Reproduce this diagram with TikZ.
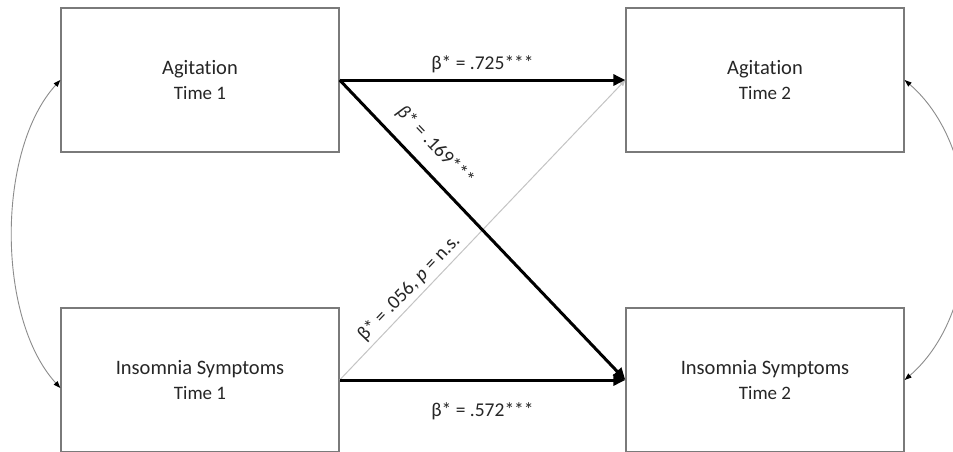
\documentclass[tikz,border=0pt]{standalone}
\usepackage{fontspec}
\setmainfont{Carlito}[Ligatures=NoCommon]
\usetikzlibrary{arrows.meta}
\definecolor{boxline}{HTML}{7A7A7A}
\definecolor{txt}{HTML}{262626}
\definecolor{faint}{HTML}{C4C4C4}
\definecolor{curve}{HTML}{8C8C8C}
\tikzset{
  var/.style={draw=boxline, line width=1.3pt, minimum width=278pt, minimum height=144pt,
    inner sep=0pt, align=center, text=txt, font=\fontsize{20.5}{24.5}\selectfont},
  strong/.style={line width=3pt, -{Triangle[length=12pt,width=11pt]}},
  weak/.style={draw=faint, line width=1pt, -{Triangle[length=6pt,width=5pt]}},
  cov/.style={draw=curve, line width=0.9pt, {Triangle[length=7pt,width=5pt,fill=black,color=black]}-{Triangle[length=7pt,width=5pt,fill=black,color=black]}},
  coef/.style={text=txt, font=\fontsize{19.5}{23}\selectfont, inner sep=1pt}
}
\newcommand{\wavetag}[1]{{\fontsize{19}{22}\selectfont #1}}
\begin{document}
\begin{tikzpicture}[x=1pt, y=-1pt]
  \useasboundingbox (0,0) rectangle (953,451);
  \fill[white] (0,0) rectangle (953,451);

  % the four measured variables
  \node[var] (A1) at (200,80)  {Agitation\\\wavetag{Time 1}};
  \node[var] (A2) at (765,80)  {Agitation\\\wavetag{Time 2}};
  \node[var] (I1) at (200,380) {Insomnia Symptoms\\\wavetag{Time 1}};
  \node[var] (I2) at (765,380) {Insomnia Symptoms\\\wavetag{Time 2}};

  % cross-lagged paths
  \draw[weak] (I1.east) -- (A2.west);
  \draw[strong] (A1.east) -- (A2.west);
  \draw[strong] (A1.east) -- (I2.west);
  \draw[strong] (I1.east) -- (I2.west);

  % path coefficients
  \node[coef] (c1) at (482.5,64) {β* = .725***};
  \node[coef] (c2) at (482.5,411) {β* = .572***};
  \node[coef, rotate=-46.3] (c3) at (435,146) {\textit{β}* = .169***};
  \node[coef, rotate=46.3] (c4) at (409,288) {β* = .056, \textit{p} = n.s.};

  % correlations within each wave
  \coordinate (I1low) at ([yshift=-8pt]I1.west);
  \draw[cov] (A1.west) .. controls +(-64,70) and +(-64,-70) .. (I1low);
  \draw[cov] (A2.east) .. controls +(81,70) and +(81,-70) .. (I2.east);
\end{tikzpicture}
\end{document}
